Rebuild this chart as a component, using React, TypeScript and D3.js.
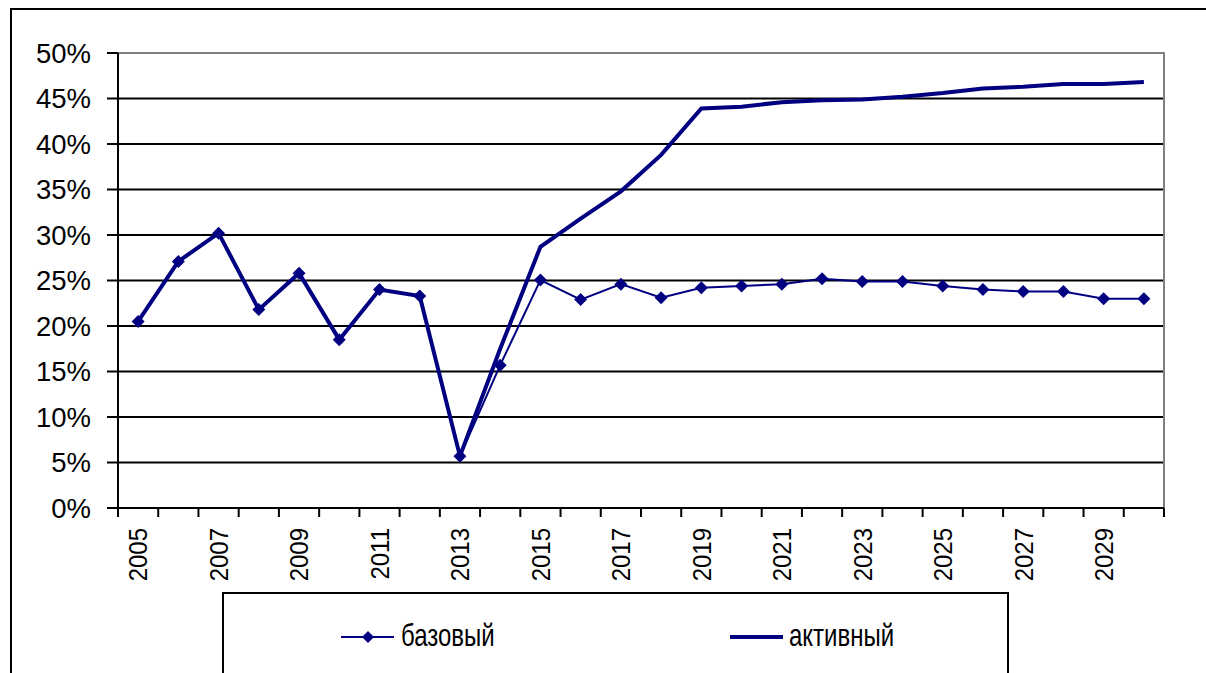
import React from "react";
import * as d3 from "d3";

// Years on the category axis
const years: number[] = d3.range(2005, 2031);

// Scenario shares, percent
const baseValues: number[] = [
  20.5, 27.1, 30.2, 21.8, 25.8, 18.5, 24.0, 23.3, 5.7, 15.7,
  25.05, 22.9, 24.6, 23.1, 24.2, 24.4, 24.6, 25.2, 24.9, 24.9,
  24.4, 24.0, 23.8, 23.8, 23.0, 23.0,
];
const activeValues: number[] = [
  20.5, 27.1, 30.2, 21.8, 25.8, 18.5, 24.0, 23.3, 5.7, 17.5,
  28.7, 31.8, 34.8, 38.8, 43.9, 44.1, 44.6, 44.8, 44.9, 45.2,
  45.6, 46.1, 46.3, 46.6, 46.6, 46.8,
];

const yTicks: number[] = [0, 5, 10, 15, 20, 25, 30, 35, 40, 45, 50];
const seriesNames: string[] = ["базовый", "активный"];

const W = 1206;
const H = 673;
const NAVY = "#000080";
const FONT = "'Liberation Sans', Arial, sans-serif";

export default function App() {
  const left = 118;
  const right = 1164;
  const top = 53;
  const bottom = 508;

  const x = d3
    .scaleBand<number>()
    .domain(years)
    .range([left, right])
    .padding(0);
  const y = d3.scaleLinear().domain([0, 50]).range([bottom, top]);
  const cx = (yr: number) => (x(yr) as number) + x.bandwidth() / 2;

  const line = d3
    .line<number>()
    .x((_, i) => cx(years[i]))
    .y((v) => y(v));

  const diamond = (px: number, py: number, r: number) =>
    `M${px},${py - r}L${px + r},${py}L${px},${py + r}L${px - r},${py}Z`;

  const bandEdges = years.map((yr) => x(yr) as number).concat([right]);

  return (
    <svg
      width={W}
      height={H}
      style={{ position: "absolute", left: 0, top: 0, background: "#fff" }}
      fontFamily={FONT}
    >
      {/* chart frame */}
      <rect x={11} y={9} width={W} height={H} fill="#fff" stroke="#000" strokeWidth={2} />

      {/* horizontal gridlines */}
      {yTicks
        .filter((t) => t > 0 && t < 50)
        .map((t) => (
          <line key={t} x1={left} x2={right} y1={y(t)} y2={y(t)} stroke="#000" strokeWidth={2} />
        ))}

      {/* plot area border (top and right) */}
      <path
        d={`M${left},${top}H${right}V${bottom}`}
        fill="none"
        stroke="#808080"
        strokeWidth={2}
      />

      {/* value axis */}
      <line x1={left} x2={left} y1={top} y2={bottom} stroke="#000" strokeWidth={2} />
      {yTicks.map((t) => (
        <g key={t}>
          <line x1={left - 11} x2={left} y1={y(t)} y2={y(t)} stroke="#000" strokeWidth={2} />
          <text
            x={91}
            y={y(t)}
            dy="0.36em"
            textAnchor="end"
            fontSize={27.5}
            fill="#000"
          >
            {`${t}%`}
          </text>
        </g>
      ))}

      {/* category axis */}
      <line x1={left - 11} x2={right} y1={bottom} y2={bottom} stroke="#000" strokeWidth={2} />
      {bandEdges.map((ex, i) => (
        <line key={i} x1={ex} x2={ex} y1={bottom} y2={bottom + 9} stroke="#000" strokeWidth={2} />
      ))}
      {years
        .filter((_, i) => i % 2 === 0)
        .map((yr) => (
          <text
            key={yr}
            transform={`translate(${cx(yr)},528) rotate(-90) scale(1,1.08)`}
            dy="0.36em"
            textAnchor="end"
            fontSize={24}
            fill="#000"
          >
            {yr}
          </text>
        ))}

      {/* series */}
      <path d={line(activeValues) ?? ""} fill="none" stroke={NAVY} strokeWidth={4} strokeLinejoin="miter" />
      <path d={line(baseValues) ?? ""} fill="none" stroke={NAVY} strokeWidth={2} />
      {baseValues.map((v, i) => (
        <path key={i} d={diamond(cx(years[i]), y(v), 6.5)} fill={NAVY} />
      ))}

      {/* legend */}
      <rect x={223} y={593} width={785} height={120} fill="#fff" stroke="#000" strokeWidth={2} />
      <line x1={341} x2={394} y1={637} y2={637} stroke={NAVY} strokeWidth={2} />
      <path d={diamond(368, 637, 6)} fill={NAVY} />
      <text
        transform="translate(401,645.5) scale(1,1.3)"
        fontSize={24}
        fill="#000"
      >
        {seriesNames[0]}
      </text>
      <line x1={730} x2={783} y1={637} y2={637} stroke={NAVY} strokeWidth={4} />
      <text
        transform="translate(789,645.5) scale(1,1.3)"
        fontSize={24}
        fill="#000"
      >
        {seriesNames[1]}
      </text>
    </svg>
  );
}
